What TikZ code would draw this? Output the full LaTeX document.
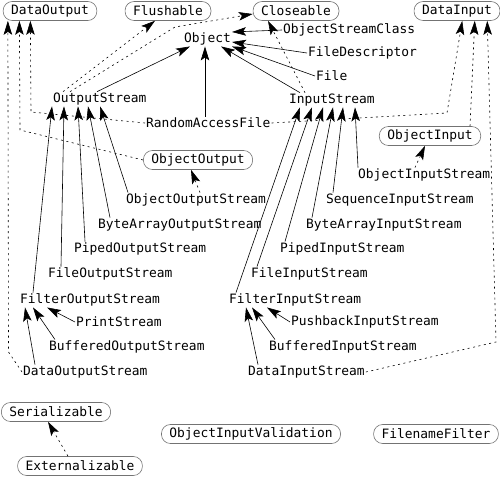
\documentclass[tikz,border=0pt]{standalone}
\usepackage{fontspec}
\newfontfamily\javafont{DejaVu Sans Mono}
\usetikzlibrary{arrows.meta}
\tikzstyle{iface} = [draw=black!55, line width=0.6pt,
rounded corners=9pt,
minimum height=19pt, inner xsep=8pt, inner ysep=2pt]
\tikzstyle{cls} = [anchor=west, inner sep=1pt]
\tikzstyle{inherit} = [->, line width=0.6pt]
\tikzstyle{realize} = [->, line width=0.6pt, dash pattern=on 2pt off 3.5pt]

\begin{document}
\begin{tikzpicture}[>={Stealth[length=14pt,width=8.5pt,inset=3pt]}, x=1pt, y=-1pt,
  font=\javafont\fontsize{12.9}{15}\selectfont]
    \useasboundingbox (0,0) rectangle (500,478);

    % interfaces
    \node[iface] (dop) at (50,11) {DataOutput};
    \node[iface] (flu) at (168,11) {Flushable};
    \node[iface] (clo) at (296,11) {Closeable};
    \node[iface] (dip) at (457,11) {DataInput};
    \node[iface] (oop) at (198,160) {ObjectOutput};
    \node[iface] (oip) at (430,136) {ObjectInput};
    \node[iface] (ser) at (56,412) {Serializable};
    \node[iface] (ext) at (80,466) {Externalizable};
    \node[iface] (oiv) at (251,434) {ObjectInputValidation};
    \node[iface] (ff) at (436,434) {FilenameFilter};

    % classes
    \node[cls] (obj) at (183,39) {Object};
    \node[cls] (osc) at (282,30) {ObjectStreamClass};
    \node[cls] (fd) at (307,53) {FileDescriptor};
    \node[cls] (file) at (315,76) {File};
    \node[cls] (os) at (52,99) {OutputStream};
    \node[cls] (is) at (288,100) {InputStream};
    \node[cls] (raf) at (145,123) {RandomAccessFile};
    \node[cls] (oos) at (125,200) {ObjectOutputStream};
    \node[cls] (baos) at (97,225) {ByteArrayOutputStream};
    \node[cls] (pos) at (73,249) {PipedOutputStream};
    \node[cls] (fos) at (47,274) {FileOutputStream};
    \node[cls] (filos) at (19,300) {FilterOutputStream};
    \node[cls] (ps) at (75,322) {PrintStream};
    \node[cls] (bos) at (48,347) {BufferedOutputStream};
    \node[cls] (dos) at (22,372) {DataOutputStream};
    \node[cls] (ois) at (357,175) {ObjectInputStream};
    \node[cls] (sis) at (325,200) {SequenceInputStream};
    \node[cls] (bais) at (305,225) {ByteArrayInputStream};
    \node[cls] (pis) at (279,249) {PipedInputStream};
    \node[cls] (fis) at (250,274) {FileInputStream};
    \node[cls] (filis) at (228,300) {FilterInputStream};
    \node[cls] (pbis) at (290,322) {PushbackInputStream};
    \node[cls] (bis) at (268,347) {BufferedInputStream};
    \node[cls] (dis) at (247,372) {DataInputStream};

    % subclasses of Object
    \draw[inherit] ([xshift=45pt]os.north west) -- ([xshift=7pt]obj.south west);
    \draw[inherit] ([xshift=60pt]raf.north west) -- ([xshift=22pt]obj.south west);
    \draw[inherit] ([xshift=12pt]is.north west) -- ([xshift=38pt]obj.south west);
    \draw[inherit] (file.west) -- (obj.south east);
    \draw[inherit] (fd.west) -- ([yshift=-3pt]obj.east);
    \draw[inherit] (osc.west) -- ([yshift=7pt]obj.east);

    % subclasses of OutputStream
    \draw[inherit] ([xshift=14pt]filos.north west) -- (os.south west);
    \draw[inherit] ([xshift=14pt]fos.north west) -- ([xshift=12pt]os.south west);
    \draw[inherit] ([xshift=12pt]pos.north west) -- ([xshift=26pt]os.south west);
    \draw[inherit] ([xshift=13pt]baos.north west) -- ([xshift=36pt]os.south west);
    \draw[inherit] ([xshift=3pt]oos.north west) -- ([xshift=48pt]os.south west);

    % subclasses of InputStream
    \draw[inherit] ([xshift=8pt]filis.north west) -- ([xshift=12pt]is.south west);
    \draw[inherit] ([xshift=7pt]fis.north west) -- ([xshift=24pt]is.south west);
    \draw[inherit] ([xshift=6pt]pis.north west) -- ([xshift=35pt]is.south west);
    \draw[inherit] ([xshift=7pt]bais.north west) -- ([xshift=45pt]is.south west);
    \draw[inherit] ([xshift=8pt]sis.north west) -- ([xshift=55pt]is.south west);
    \draw[inherit] ([xshift=1pt]ois.north west) -- ([xshift=67pt]is.south west);

    % filters
    \draw[inherit] (ps.west) -- ([xshift=28pt]filos.south west);
    \draw[inherit] ([xshift=7pt]bos.north west) -- ([xshift=14pt]filos.south west);
    \draw[inherit] ([xshift=13pt]dos.north west) -- ([xshift=6pt]filos.south west);
    \draw[inherit] (pbis.west) -- ([xshift=39pt]filis.south west);
    \draw[inherit] ([xshift=7pt]bis.north west) -- ([xshift=24pt]filis.south west);
    \draw[inherit] ([xshift=11pt]dis.north west) -- ([xshift=18pt]filis.south west);

    % implemented interfaces
    \draw[realize] ([xshift=11pt]os.north west) -- ([xshift=-13pt]flu.south);
    \draw[realize] ([xshift=18pt]os.north west) -- (175,27) -- ([yshift=-3pt]clo.west);
    \draw[realize] ([xshift=17pt]is.north west) -- ([xshift=-28pt]clo.south);
    \draw[realize] (dos.west) -- (8.5,352) -- ([xshift=5pt]dop.south west);
    \draw[realize] (oop.west) -- (20,130) -- ([xshift=16.5pt]dop.south west);
    \draw[realize] (raf.west) -- (31,112) -- ([xshift=27.5pt]dop.south west);
    \draw[realize] (raf.east) -- (447,113) -- ([xshift=48.5pt]dip.south west);
    \draw[realize] ([xshift=40pt]oip.north) -- ([xshift=61pt]dip.south west);
    \draw[realize] (dis.east) -- (496,342) -- ([xshift=73.5pt]dip.south west);
    \draw[realize] ([xshift=75pt]oos.north west) -- ([xshift=-7pt]oop.south);
    \draw[realize] ([xshift=58pt]ois.north west) -- ([xshift=-5pt]oip.south);
    \draw[realize] ([xshift=-12pt]ext.north) -- ([xshift=-8pt]ser.south);
\end{tikzpicture}
\end{document}
